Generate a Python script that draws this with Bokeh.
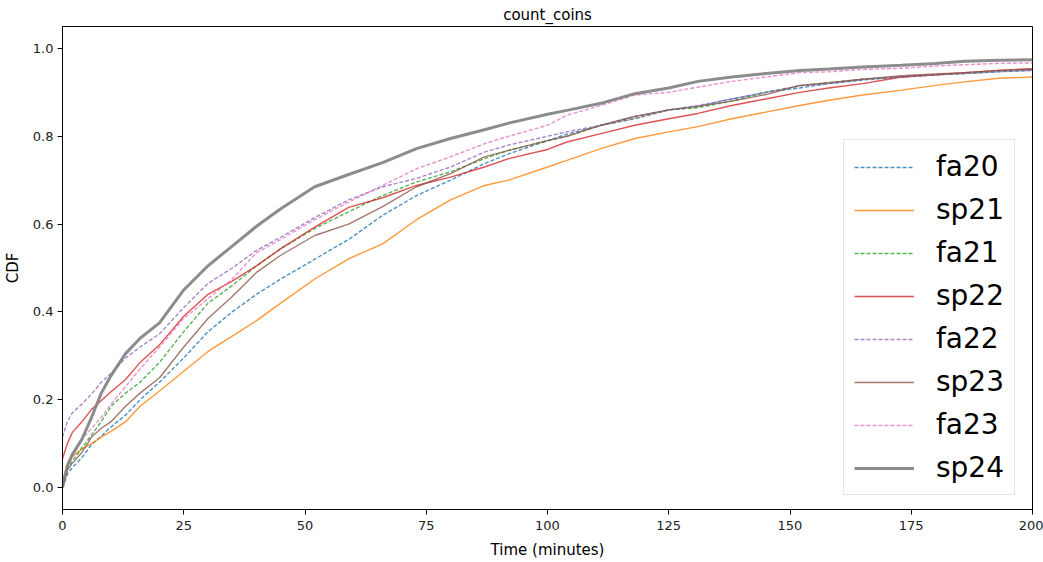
from bokeh.plotting import figure
from bokeh.models import Range1d, FixedTicker, PrintfTickFormatter, Legend
from bokeh.embed import file_html
from bokeh.resources import INLINE

# Time grid (minutes) at which the CDF curves were read
x = [0, 1, 2, 4, 6, 8, 10, 13, 16, 20, 25, 30, 35, 40, 45, 52, 59, 66, 73, 80,
     87, 92, 100, 104, 111, 118, 125, 131, 138, 145, 152, 158, 165, 173, 180,
     186, 193, 200]

fa20 = [0.0, 0.03, 0.045, 0.068, 0.098, 0.117, 0.138, 0.165, 0.2, 0.24, 0.295, 0.355,
        0.40, 0.44, 0.475, 0.52, 0.565, 0.62, 0.665, 0.70, 0.738, 0.76, 0.79,
        0.805, 0.825, 0.845, 0.86, 0.868, 0.885, 0.90, 0.91, 0.92, 0.928, 0.935,
        0.94, 0.943, 0.947, 0.95]
sp21 = [0.0, 0.05, 0.07, 0.088, 0.10, 0.115, 0.128, 0.15, 0.185, 0.22, 0.265, 0.31,
        0.345, 0.38, 0.42, 0.475, 0.521, 0.555, 0.61, 0.655, 0.688, 0.70, 0.73,
        0.745, 0.772, 0.795, 0.81, 0.822, 0.84, 0.855, 0.87, 0.882, 0.894, 0.905,
        0.916, 0.924, 0.932, 0.935]
fa21 = [0.0, 0.04, 0.06, 0.09, 0.12, 0.15, 0.185, 0.215, 0.24, 0.285, 0.355, 0.42,
        0.46, 0.505, 0.544, 0.59, 0.628, 0.665, 0.696, 0.719, 0.749, 0.768, 0.79,
        0.80, 0.825, 0.84, 0.86, 0.865, 0.88, 0.90, 0.915, 0.922, 0.93, 0.935,
        0.94, 0.943, 0.948, 0.952]
sp22 = [0.065, 0.10, 0.125, 0.15, 0.178, 0.198, 0.218, 0.246, 0.285, 0.325, 0.39, 0.44,
        0.47, 0.505, 0.544, 0.593, 0.638, 0.66, 0.688, 0.707, 0.73, 0.749, 0.77,
        0.787, 0.806, 0.825, 0.84, 0.852, 0.87, 0.885, 0.90, 0.91, 0.92, 0.935,
        0.94, 0.945, 0.95, 0.954]
fa22 = [0.115, 0.15, 0.17, 0.19, 0.213, 0.24, 0.26, 0.295, 0.32, 0.35, 0.41, 0.465,
        0.50, 0.54, 0.57, 0.615, 0.655, 0.685, 0.704, 0.73, 0.764, 0.78, 0.80,
        0.81, 0.825, 0.84, 0.86, 0.87, 0.885, 0.90, 0.915, 0.92, 0.93, 0.935,
        0.94, 0.943, 0.947, 0.95]
sp23 = [0.0, 0.04, 0.055, 0.08, 0.115, 0.135, 0.15, 0.185, 0.215, 0.25, 0.32, 0.385,
        0.435, 0.49, 0.529, 0.574, 0.60, 0.64, 0.685, 0.715, 0.753, 0.768, 0.79,
        0.80, 0.825, 0.845, 0.86, 0.868, 0.88, 0.895, 0.916, 0.922, 0.93, 0.938,
        0.942, 0.945, 0.95, 0.953]
fa23 = [0.02, 0.05, 0.07, 0.11, 0.135, 0.16, 0.19, 0.23, 0.27, 0.32, 0.385, 0.43,
        0.475, 0.535, 0.565, 0.61, 0.65, 0.688, 0.726, 0.753, 0.783, 0.80, 0.825,
        0.848, 0.87, 0.894, 0.90, 0.912, 0.925, 0.935, 0.945, 0.947, 0.952, 0.955,
        0.96, 0.963, 0.966, 0.967]
sp24 = [0.0, 0.05, 0.075, 0.11, 0.16, 0.215, 0.255, 0.305, 0.34, 0.375, 0.45, 0.505,
        0.55, 0.595, 0.635, 0.685, 0.713, 0.74, 0.772, 0.795, 0.815, 0.83, 0.85,
        0.859, 0.875, 0.897, 0.91, 0.925, 0.935, 0.943, 0.95, 0.953, 0.958, 0.962,
        0.966, 0.971, 0.973, 0.974]

names = ["fa20", "sp21", "fa21", "sp22", "fa22", "sp23", "fa23", "sp24"]
series = [fa20, sp21, fa21, sp22, fa22, sp23, fa23, sp24]
colors = ["#1f77b4", "#ff7f0e", "#2ca02c", "#d62728", "#9467bd", "#8c564b",
          "#e377c2", "#7f7f7f"]
x_ticks = [0, 25, 50, 75, 100, 125, 150, 175, 200]
y_ticks = [0.0, 0.2, 0.4, 0.6, 0.8, 1.0]

FONT = "DejaVu Sans"

p = figure(width=1043, height=562, output_backend="svg", toolbar_location=None,
           x_range=Range1d(0, 200), y_range=Range1d(-0.05, 1.05),
           title="count_coins")
p.min_border_left = 62
p.min_border_right = 11
p.min_border_top = 8
p.min_border_bottom = 53
p.background_fill_color = "white"
p.border_fill_color = "white"
p.outline_line_color = "black"
p.outline_line_width = 1
p.xgrid.visible = False
p.ygrid.visible = False

p.title.align = "center"
p.title.text_font = FONT
p.title.text_font_size = "15px"
p.title.text_font_style = "normal"
p.title.text_color = "black"
p.title.standoff = 6

for ax in (p.xaxis[0], p.yaxis[0]):
    ax.axis_line_color = "black"
    ax.major_tick_line_color = "black"
    ax.major_tick_out = 5
    ax.major_tick_in = 0
    ax.minor_tick_line_color = None
    ax.major_label_text_font = FONT
    ax.major_label_text_font_size = "13px"
    ax.major_label_text_color = "#222222"
    ax.axis_label_text_font = FONT
    ax.axis_label_text_font_size = "15px"
    ax.axis_label_text_font_style = "normal"
    ax.axis_label_text_color = "black"

p.xaxis.ticker = FixedTicker(ticks=x_ticks)
p.yaxis.ticker = FixedTicker(ticks=y_ticks)
p.yaxis.formatter = PrintfTickFormatter(format="%.1f")
p.xaxis.axis_label = "Time (minutes)"
p.yaxis.axis_label = "CDF"
p.xaxis.axis_label_standoff = 8
p.yaxis.axis_label_standoff = 8
p.xaxis.major_label_standoff = 6
p.yaxis.major_label_standoff = 4

items = []
for i, (name, ys, c) in enumerate(zip(names, series, colors)):
    if name == "sp24":
        r = p.line(x, ys, line_color=c, line_width=3, line_alpha=0.9)
    elif name.startswith("fa"):
        r = p.line(x, ys, line_color=c, line_width=1.4, line_alpha=0.8,
                   line_dash="4 2")
    else:
        r = p.line(x, ys, line_color=c, line_width=1.4, line_alpha=0.8)
    items.append((name, [r]))

legend = Legend(items=items, location=(781, 14))
legend.label_text_font = FONT
legend.label_text_font_size = "28px"
legend.label_text_color = "black"
legend.glyph_width = 60
legend.glyph_height = 30
legend.label_standoff = 22
legend.spacing = 10
legend.padding = 10
legend.margin = 0
legend.border_line_color = "#cccccc"
legend.border_line_width = 1
legend.background_fill_alpha = 0.8
p.add_layout(legend, "center")

open("out.html", "w").write(file_html(p, INLINE))
